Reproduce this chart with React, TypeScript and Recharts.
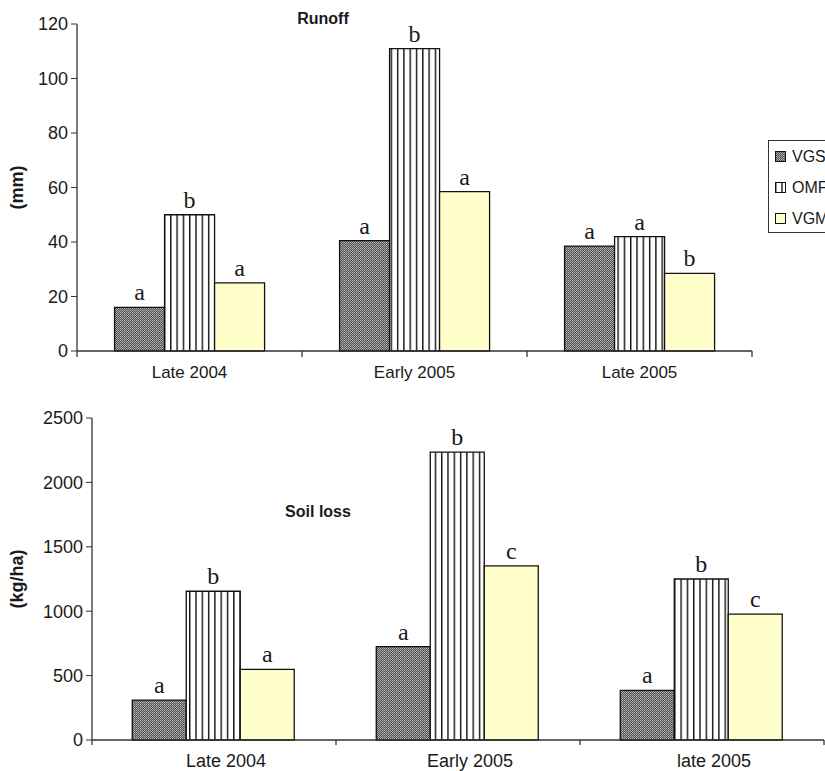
import React from 'react';
import { BarChart, Bar, XAxis, YAxis, LabelList, Legend } from 'recharts';

const runoffPeriods = ['Late 2004', 'Early 2005', 'Late 2005'];
const runoffVGS = [16, 40.5, 38.5];
const runoffOMF = [50, 111, 42];
const runoffVGM = [25, 58.5, 28.5];
const runoffVGSLetters = ['a', 'a', 'a'];
const runoffOMFLetters = ['b', 'b', 'a'];
const runoffVGMLetters = ['a', 'a', 'b'];
const runoffTicks = [0, 20, 40, 60, 80, 100, 120];

const soilPeriods = ['Late 2004', 'Early 2005', 'late 2005'];
const soilVGS = [310, 725, 385];
const soilOMF = [1155, 2235, 1250];
const soilVGM = [548, 1352, 977];
const soilVGSLetters = ['a', 'a', 'a'];
const soilOMFLetters = ['b', 'b', 'b'];
const soilVGMLetters = ['a', 'c', 'c'];
const soilTicks = [0, 500, 1000, 1500, 2000, 2500];

const seriesNames = ['VGS', 'OMF', 'VGM'];

const runoffData = runoffPeriods.map((p, i) => ({
  period: p,
  VGS: runoffVGS[i], OMF: runoffOMF[i], VGM: runoffVGM[i],
  VGS_l: runoffVGSLetters[i], OMF_l: runoffOMFLetters[i], VGM_l: runoffVGMLetters[i],
}));
const soilData = soilPeriods.map((p, i) => ({
  period: p,
  VGS: soilVGS[i], OMF: soilOMF[i], VGM: soilVGM[i],
  VGS_l: soilVGSLetters[i], OMF_l: soilOMFLetters[i], VGM_l: soilVGMLetters[i],
}));

const fills: Record<string, string> = {
  VGS: 'url(#patVGS)',
  OMF: 'url(#patOMF)',
  VGM: '#FFFFCC',
};

const AXIS = '#333';
const TXT = '#1a1a1a';
const SANS = '"Liberation Sans", Arial, sans-serif';
const SERIF = '"Liberation Serif", "Times New Roman", serif';

const yLabel = (text: string) => (props: any) => {
  const vb = props.viewBox || {};
  const cx = 17;
  const cy = vb.y + vb.height / 2;
  return (
    <text
      x={cx}
      y={cy}
      transform={`rotate(-90 ${cx} ${cy})`}
      textAnchor="middle"
      dominantBaseline="central"
      fontFamily={SANS}
      fontWeight="bold"
      fontSize={18}
      fill={TXT}
    >
      {text}
    </text>
  );
};

// category tick: label at band centre, tick marks at band boundaries
const makeTick = (gap: number, markLen: number, fontSize: number, dx: number) => (props: any) => {
  const { x, y, payload, index, visibleTicksCount } = props;
  const half = payload && payload.offset ? payload.offset : 0;
  const axisY = y - gap;
  const isLast = index === visibleTicksCount - 1;
  return (
    <g>
      <line x1={x - half} x2={x - half} y1={axisY} y2={axisY + markLen} stroke={AXIS} strokeWidth={1.3} />
      {isLast && (
        <line x1={x + half} x2={x + half} y1={axisY} y2={axisY + markLen} stroke={AXIS} strokeWidth={1.3} />
      )}
      <text
        x={x + dx}
        y={axisY + gap}
        dy="0.71em"
        textAnchor="middle"
        fontFamily={SANS}
        fontSize={fontSize}
        fill={TXT}
      >
        {payload.value}
      </text>
    </g>
  );
};

const renderLegend = (props: any) => {
  const payload = [...(props.payload || [])].sort(
    (a: any, b: any) => seriesNames.indexOf(a.value) - seriesNames.indexOf(b.value)
  );
  return (
    <div
      style={{
        border: '1px solid #333',
        width: 90,
        height: 93,
        boxSizing: 'border-box',
        background: '#fff',
        fontFamily: SANS,
        fontSize: 16,
        color: TXT,
      }}
    >
      {payload.map((p: any) => (
        <div key={p.value} style={{ display: 'flex', alignItems: 'center', height: 31 }}>
          <svg width={11} height={11} style={{ marginLeft: 6, marginRight: 6, flex: 'none' }}>
            <rect x={0.5} y={0.5} width={10} height={10} fill={p.color} stroke="#111" strokeWidth={1} />
          </svg>
          <span>{p.value}</span>
        </div>
      ))}
    </div>
  );
};

const labelStyle = { fontFamily: SERIF, fontSize: 24, fill: TXT };

function renderBars() {
  return seriesNames.map((s) => (
    <Bar
      key={s}
      dataKey={s}
      name={s}
      fill={fills[s]}
      stroke="#111"
      strokeWidth={1.3}
      isAnimationActive={false}
    >
      <LabelList dataKey={`${s}_l`} position="top" offset={7} {...labelStyle} />
    </Bar>
  ));
}

export default function App() {
  return (
    <div
      style={{
        position: 'absolute',
        left: 0,
        top: 0,
        width: 825,
        height: 771,
        background: '#fff',
        overflow: 'hidden',
        fontFamily: SANS,
      }}
    >
      <svg width={0} height={0} style={{ position: 'absolute' }}>
        <defs>
          <pattern id="patVGS" patternUnits="userSpaceOnUse" width={2} height={2}>
            <rect x={0} y={0} width={2} height={2} fill="#505050" />
            <rect x={0} y={0} width={1} height={1} fill="#b8b8b8" />
            <rect x={1} y={1} width={1} height={1} fill="#a0a0a0" />
          </pattern>
          <pattern id="patOMF" patternUnits="userSpaceOnUse" width={6.3} height={10}>
            <rect x={0} y={0} width={6.3} height={10} fill="#fff" />
            <rect x={0} y={0} width={1.4} height={10} fill="#111" />
          </pattern>
        </defs>
      </svg>

      <div style={{ position: 'absolute', left: 0, top: 0 }}>
        <BarChart
          width={825}
          height={390}
          data={runoffData}
          margin={{ top: 24, right: 73, left: 0, bottom: 9 }}
          barCategoryGap="16.7%"
          barGap={0}
        >
          <XAxis
            dataKey="period"
            height={30}
            axisLine={{ stroke: AXIS, strokeWidth: 1.3 }}
            tickLine={false}
            tickSize={6}
            tickMargin={9}
            interval={0}
            tick={makeTick(15, 6, 17, 0)}
          />
          <YAxis
            width={77}
            domain={[0, 120]}
            ticks={runoffTicks}
            interval={0}
            axisLine={{ stroke: AXIS, strokeWidth: 1.3 }}
            tickLine={{ stroke: AXIS }}
            tickSize={6}
            tickMargin={3}
            tick={{ fontSize: 18, fill: TXT, fontFamily: SANS }}
            label={{ content: yLabel('(mm)') } as any}
          />
          <Legend
            layout="vertical"
            align="center"
            verticalAlign="middle"
            content={renderLegend}
            wrapperStyle={{ left: 768, top: 140, width: 90, height: 93 }}
          />
          {renderBars()}
        </BarChart>
      </div>

      <div
        style={{
          position: 'absolute',
          left: 223,
          top: 10,
          width: 200,
          textAlign: 'center',
          fontWeight: 'bold',
          fontSize: 16,
          color: TXT,
        }}
      >
        Runoff
      </div>

      <div style={{ position: 'absolute', left: 0, top: 380 }}>
        <BarChart
          width={825}
          height={391}
          data={soilData}
          margin={{ top: 38, right: 1, left: 0, bottom: 3 }}
          barCategoryGap="16.5%"
          barGap={0}
        >
          <XAxis
            dataKey="period"
            height={28}
            axisLine={{ stroke: AXIS, strokeWidth: 1.3 }}
            tickLine={false}
            tickSize={6}
            tickMargin={8}
            interval={0}
            tick={makeTick(14, 5, 18, 12)}
          />
          <YAxis
            width={92}
            domain={[0, 2500]}
            ticks={soilTicks}
            interval={0}
            axisLine={{ stroke: AXIS, strokeWidth: 1.3 }}
            tickLine={{ stroke: AXIS }}
            tickSize={6}
            tickMargin={3}
            tick={{ fontSize: 18, fill: TXT, fontFamily: SANS }}
            label={{ content: yLabel('(kg/ha)') } as any}
          />
          {renderBars()}
        </BarChart>
      </div>

      <div
        style={{
          position: 'absolute',
          left: 218,
          top: 503,
          width: 200,
          textAlign: 'center',
          fontWeight: 'bold',
          fontSize: 16,
          color: TXT,
        }}
      >
        Soil loss
      </div>
    </div>
  );
}
